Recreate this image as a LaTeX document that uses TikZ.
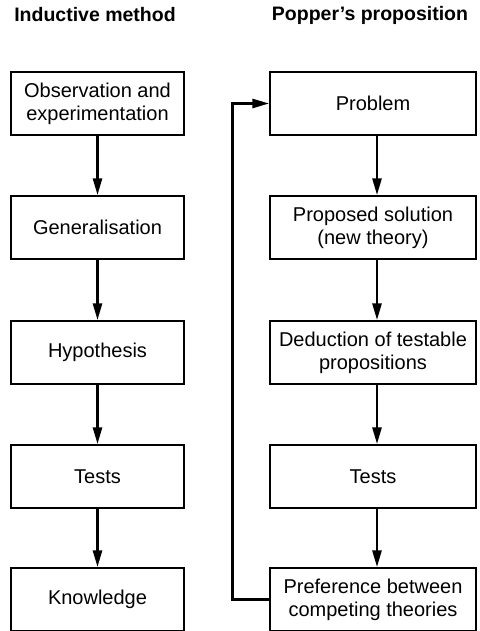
\documentclass[tikz,border=0pt]{standalone}
\usepackage{fontspec}
\setmainfont{Liberation Sans}
\usetikzlibrary{arrows.meta}
\begin{document}
\begin{tikzpicture}[x=1pt,y=-1pt,
  lbox/.style={draw, line width=1.5pt, minimum width=173pt, minimum height=63pt, inner sep=0pt, align=center, font=\fontsize{20}{23}\selectfont},
  rbox/.style={lbox, minimum width=206pt},
  title/.style={font=\bfseries\fontsize{19.5}{22}\selectfont},
  arr/.style={line width=2.8pt, -{Triangle[length=17pt,width=9pt]}}]
\useasboundingbox (0,0) rectangle (479,631);
\node[title] (tl) at (95,15) {Inductive method};
\node[title] (tr) at (370,15) {Popper’s proposition};
\node[lbox] (l1) at (97.5,103.5) {Observation and\\experimentation};
\node[lbox] (l2) at (97.5,227.5) {Generalisation};
\node[lbox] (l3) at (97.5,352.5) {Hypothesis};
\node[lbox] (l4) at (97.5,476.5) {Tests};
\node[lbox] (l5) at (97.5,599.5) {Knowledge};
\node[rbox] (r1) at (373,103.5) {Problem};
\node[rbox] (r2) at (373,227.5) {Proposed solution\\(new theory)};
\node[rbox] (r3) at (373,352.5) {Deduction of testable\\propositions};
\node[rbox] (r4) at (373,476.5) {Tests};
\node[rbox] (r5) at (373,599.5) {Preference between\\competing theories};
\foreach \a/\b in {l1/l2,l2/l3,l3/l4,l4/l5}{\draw[arr] (\a) -- (\b);}
\foreach \a/\b in {r1/r2,r2/r3,r3/r4,r4/r5}{\draw[arr] ([xshift=4pt]\a.south) -- ([xshift=4pt]\b.north);}
\draw[arr, line join=miter] (r5.west) -- ([xshift=-37pt]r5.west) |- (r1.west);
\end{tikzpicture}
\end{document}
